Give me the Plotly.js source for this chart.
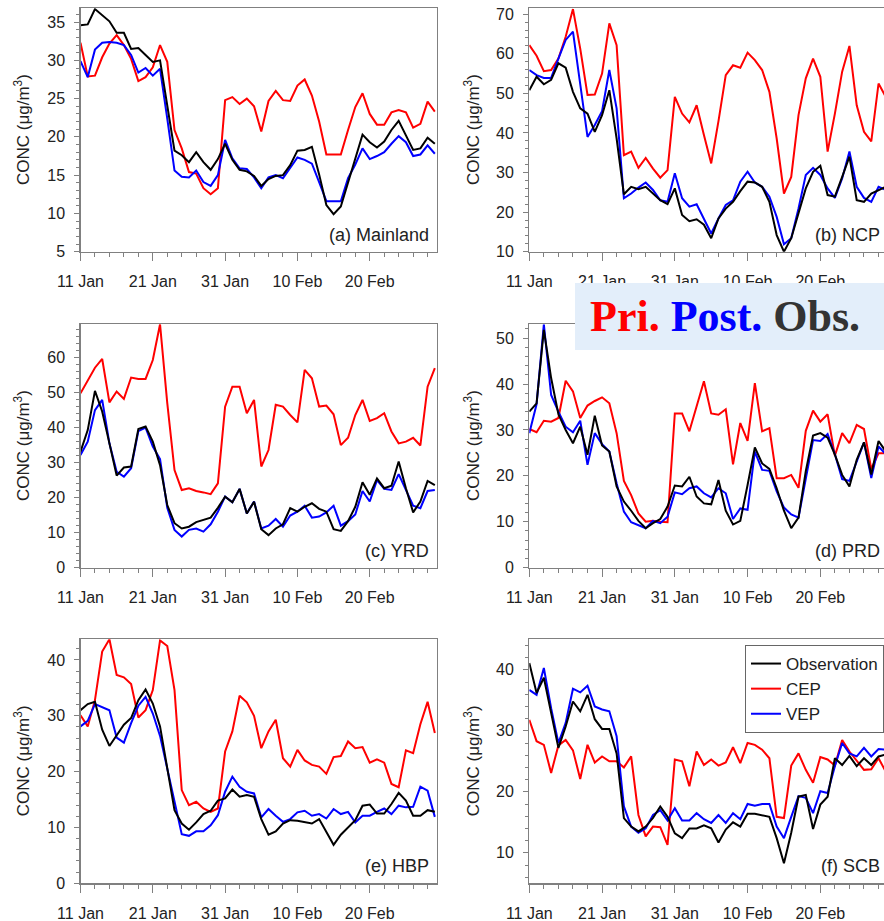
<!DOCTYPE html>
<html>
<head>
<meta charset="utf-8">
<script src="https://cdn.plot.ly/plotly-3.0.1.min.js"></script>
<style>
  html, body { margin: 0; padding: 0; overflow: hidden; background: #fff; }
  #chart { width: 888px; height: 921px; }
</style>
</head>
<body>
<div id="chart"></div>
<script>
// Daily PM2.5 concentrations, 11 Jan - 29 Feb 2020
const startDate = '2020-01-11';
const nDays = 50;
const dates = [];
for (let i = 0; i < nDays; i++) {
  const d = new Date(Date.UTC(2020, 0, 11 + i));
  dates.push(d.toISOString().slice(0, 10));
}

const seriesNames = ['Observation', 'CEP', 'VEP'];
const regionLabels = ['(a) Mainland', '(b) NCP', '(c) YRD', '(d) PRD', '(e) HBP', '(f) SCB'];

// (a) Mainland
const mainlandObs = [34.6, 34.7, 36.7, 35.9, 35.1, 33.6, 33.6, 31.5, 31.6, 30.7, 29.8, 30.0, 24.0, 18.2, 17.6, 16.7, 18.0, 16.7, 15.7, 17.1, 19.1, 17.0, 15.7, 15.5, 14.9, 13.6, 14.5, 14.9, 15.0, 16.3, 18.2, 18.3, 18.7, 15.1, 11.1, 9.9, 10.9, 14.1, 17.2, 20.3, 19.3, 18.6, 19.4, 20.9, 22.1, 20.2, 18.3, 18.5, 19.9, 19.1];
const mainlandCEP = [32.3, 27.9, 28.0, 30.4, 32.2, 33.3, 32.0, 30.2, 27.3, 27.8, 29.1, 32.0, 29.8, 20.9, 18.5, 15.4, 15.2, 13.3, 12.5, 13.3, 24.8, 25.2, 24.3, 25.0, 24.0, 20.7, 24.7, 26.0, 24.8, 24.7, 26.7, 27.5, 25.4, 22.0, 17.7, 17.7, 17.7, 20.9, 23.9, 25.7, 23.0, 21.6, 21.6, 23.2, 23.5, 23.2, 21.2, 21.7, 24.6, 23.3];
const mainlandVEP = [29.9, 27.8, 31.4, 32.3, 32.4, 32.3, 32.0, 30.7, 28.4, 29.0, 28.0, 28.9, 22.4, 15.6, 14.8, 14.7, 15.6, 14.1, 13.6, 15.0, 19.6, 17.2, 15.9, 15.8, 14.7, 13.3, 14.7, 15.0, 14.6, 15.9, 17.3, 17.0, 16.5, 14.1, 11.6, 11.6, 11.6, 14.6, 16.4, 18.5, 17.1, 17.5, 18.0, 19.1, 20.1, 19.3, 17.5, 17.7, 18.9, 17.8];

// (b) NCP
const ncpObs = [50.8, 54.2, 52.3, 53.4, 57.6, 56.5, 50.4, 46.2, 44.9, 40.3, 44.5, 50.8, 38.6, 24.5, 26.4, 25.8, 26.4, 24.7, 23.0, 22.0, 26.0, 19.3, 17.7, 18.2, 16.8, 13.4, 18.4, 20.9, 22.6, 25.3, 27.7, 27.5, 26.4, 22.6, 14.2, 10.0, 13.4, 19.7, 26.0, 30.2, 31.7, 24.3, 23.9, 28.9, 34.0, 23.0, 22.6, 24.7, 25.6, 26.4];
const ncpCEP = [62.2, 59.5, 55.6, 55.9, 58.8, 64.3, 71.3, 61.3, 49.6, 49.7, 55.0, 67.7, 62.2, 34.4, 35.3, 31.2, 33.7, 31.0, 28.7, 30.6, 49.1, 44.9, 42.7, 47.0, 39.5, 32.3, 43.0, 54.6, 57.1, 56.5, 60.3, 58.4, 55.9, 50.4, 38.6, 24.7, 28.9, 44.5, 53.8, 58.8, 54.2, 35.3, 44.9, 55.5, 62.0, 47.0, 40.3, 37.9, 52.5, 49.1];
const ncpVEP = [55.9, 54.6, 53.9, 53.9, 58.8, 63.5, 65.6, 52.5, 39.0, 42.0, 45.5, 55.9, 46.2, 23.5, 24.7, 26.2, 27.5, 25.6, 23.0, 22.6, 29.8, 23.5, 21.4, 22.0, 18.5, 14.6, 18.4, 21.8, 23.0, 27.7, 30.2, 27.5, 26.4, 23.9, 18.8, 11.9, 13.4, 20.9, 29.4, 31.2, 29.4, 26.0, 23.6, 28.5, 35.3, 26.4, 23.6, 22.6, 26.4, 25.6];

// (c) YRD
const yrdObs = [33.1, 39.3, 50.5, 44.6, 35.5, 26.3, 28.6, 28.9, 39.6, 40.3, 36.0, 29.3, 17.9, 12.7, 11.2, 11.7, 13.0, 13.6, 14.3, 17.1, 20.3, 18.7, 22.5, 15.5, 18.8, 11.0, 9.3, 11.2, 12.4, 17.0, 16.0, 17.4, 18.4, 16.8, 16.0, 11.0, 10.5, 13.3, 17.4, 24.4, 20.8, 25.5, 22.7, 23.4, 30.3, 22.7, 15.8, 18.9, 24.8, 23.6];
const yrdCEP = [49.8, 53.6, 57.1, 59.6, 47.2, 50.3, 48.2, 54.3, 53.9, 53.9, 59.3, 69.5, 47.0, 27.9, 22.2, 22.7, 21.9, 21.5, 21.0, 24.1, 46.0, 51.7, 51.7, 44.1, 47.9, 28.9, 33.6, 46.5, 46.0, 43.6, 41.5, 56.5, 54.1, 46.0, 46.3, 43.8, 35.0, 37.1, 43.6, 47.9, 41.9, 42.7, 44.1, 38.9, 35.5, 36.0, 37.1, 34.9, 51.7, 57.0];
const yrdVEP = [32.2, 36.0, 45.0, 47.9, 35.5, 27.4, 26.0, 28.4, 39.0, 40.0, 34.6, 31.0, 17.1, 10.8, 8.9, 10.8, 11.2, 10.3, 12.4, 16.0, 20.3, 18.7, 22.5, 15.5, 18.9, 11.2, 12.0, 13.9, 11.7, 14.9, 16.0, 17.7, 14.3, 14.6, 15.8, 17.7, 12.0, 13.3, 15.2, 21.9, 18.9, 25.0, 22.5, 22.2, 26.7, 22.2, 17.7, 17.0, 21.9, 22.2];

// (d) PRD
const prdObs = [34.0, 35.8, 51.8, 41.3, 33.4, 30.0, 27.1, 30.7, 24.6, 33.1, 26.6, 25.3, 17.7, 14.4, 12.4, 10.2, 8.6, 9.7, 10.6, 13.3, 17.9, 17.7, 19.8, 15.5, 14.0, 13.8, 19.1, 12.4, 9.4, 10.2, 18.0, 26.2, 22.7, 21.5, 17.3, 12.4, 8.6, 10.9, 21.0, 28.8, 29.3, 28.3, 24.6, 20.2, 17.7, 23.5, 27.3, 20.3, 27.6, 25.3];
const prdCEP = [30.2, 29.5, 32.0, 31.8, 32.6, 40.7, 38.4, 32.6, 35.3, 36.3, 37.1, 35.8, 29.3, 18.9, 15.8, 11.8, 10.0, 10.2, 10.0, 9.9, 33.6, 33.6, 29.7, 35.3, 40.6, 33.6, 33.3, 34.5, 22.5, 31.5, 27.6, 40.2, 29.7, 30.4, 19.5, 19.5, 20.2, 17.4, 29.8, 34.2, 31.8, 33.4, 24.4, 29.3, 27.1, 31.1, 30.2, 21.5, 24.9, 24.9];
const prdVEP = [29.3, 35.6, 53.0, 37.6, 34.0, 30.7, 29.5, 32.0, 22.4, 29.3, 26.9, 25.3, 18.4, 12.2, 9.9, 9.2, 8.6, 10.2, 9.7, 11.1, 16.4, 16.0, 17.3, 17.7, 16.2, 15.3, 17.3, 16.2, 10.6, 12.9, 12.6, 25.3, 21.3, 21.1, 16.6, 13.1, 11.6, 10.9, 19.5, 27.8, 27.6, 29.1, 24.7, 19.3, 18.9, 23.1, 27.3, 19.5, 26.4, 24.7];

// (e) HBP
const hbpObs = [31.0, 32.1, 32.5, 27.5, 24.6, 26.6, 28.4, 29.6, 32.8, 34.7, 32.2, 28.1, 20.3, 13.1, 10.7, 9.6, 10.9, 12.4, 13.0, 14.8, 15.2, 16.8, 15.5, 15.8, 15.5, 11.5, 8.7, 9.3, 10.7, 11.3, 11.2, 11.0, 10.7, 11.5, 9.3, 6.9, 8.7, 10.1, 11.3, 13.9, 14.1, 12.5, 12.5, 14.2, 16.2, 14.8, 12.1, 12.1, 13.1, 12.8];
const hbpCEP = [30.1, 28.1, 32.8, 41.5, 43.7, 37.3, 36.9, 35.7, 29.7, 31.0, 34.6, 43.5, 42.5, 34.6, 16.7, 14.0, 14.6, 13.4, 12.8, 13.4, 23.6, 27.2, 33.6, 32.4, 30.0, 24.2, 27.2, 29.3, 22.4, 20.9, 23.9, 22.0, 21.2, 20.9, 19.6, 22.6, 22.8, 25.4, 24.2, 24.4, 21.6, 22.2, 21.6, 17.8, 17.2, 23.8, 23.3, 28.5, 32.5, 26.9];
const hbpVEP = [28.1, 29.1, 32.1, 31.6, 31.0, 26.1, 25.2, 28.7, 31.8, 33.4, 30.4, 26.4, 20.4, 15.0, 8.8, 8.5, 9.3, 9.3, 10.4, 12.2, 16.4, 19.1, 17.3, 16.4, 16.1, 11.8, 13.3, 12.1, 11.0, 11.5, 12.7, 13.0, 12.1, 12.4, 11.6, 13.3, 12.4, 12.8, 10.9, 12.1, 12.1, 12.8, 13.4, 12.4, 13.9, 13.6, 13.7, 17.3, 16.6, 11.9];

// (f) SCB
const scbObs = [41.1, 36.2, 38.7, 33.2, 27.2, 30.7, 34.8, 33.2, 35.9, 31.9, 30.3, 30.3, 26.3, 15.7, 14.3, 13.5, 14.3, 15.7, 17.6, 15.9, 13.2, 12.4, 14.0, 14.0, 14.5, 14.0, 11.7, 13.8, 15.0, 14.3, 16.4, 16.4, 16.2, 15.9, 12.4, 8.3, 13.3, 19.2, 19.5, 13.9, 17.9, 19.2, 25.5, 24.4, 25.9, 24.2, 25.5, 24.4, 25.8, 26.1];
const scbCEP = [31.8, 28.3, 27.7, 23.1, 27.6, 28.5, 26.8, 22.1, 27.7, 24.8, 25.8, 25.0, 25.0, 24.0, 25.8, 16.2, 12.7, 14.3, 14.2, 11.3, 25.3, 25.0, 20.9, 26.6, 24.4, 25.3, 24.3, 24.8, 27.3, 24.7, 28.0, 27.7, 26.9, 25.5, 15.9, 15.7, 24.3, 26.3, 23.6, 21.5, 25.7, 25.3, 24.3, 28.5, 26.6, 25.0, 23.6, 23.7, 25.5, 23.3];
const scbVEP = [36.7, 35.9, 40.3, 33.7, 28.0, 31.3, 36.9, 36.3, 37.4, 34.0, 33.5, 33.2, 29.1, 17.6, 14.3, 13.3, 14.0, 16.2, 17.0, 15.3, 17.3, 15.3, 15.3, 16.5, 15.5, 14.9, 16.2, 14.9, 16.5, 15.5, 18.0, 17.7, 18.0, 18.0, 14.3, 12.4, 15.9, 19.3, 19.0, 16.5, 20.1, 19.8, 24.2, 28.0, 26.3, 25.8, 27.2, 25.8, 27.0, 26.9];

const panelData = [
  [mainlandObs, mainlandCEP, mainlandVEP],
  [ncpObs, ncpCEP, ncpVEP],
  [yrdObs, yrdCEP, yrdVEP],
  [prdObs, prdCEP, prdVEP],
  [hbpObs, hbpCEP, hbpVEP],
  [scbObs, scbCEP, scbVEP]
];

// Axis settings per panel: [min, max, major step, minor step]
const yRanges = [[5, 36.8, 5, 1], [10, 71.5, 10, 2], [0, 69.5, 10, 2], [0, 53, 10, 2], [0, 43.7, 10, 2], [5, 45, 10, 2]];

// Page geometry (pixels)
const W = 888, H = 921;
const colLeft = [80.5, 529.3], colRight = [437, 888];
const rowTop = [8.3, 324.3, 639.3], rowBottom = [251.7, 567.7, 883.3];

const lineColors = ['#000000', '#ff0000', '#0000ff'];
const frameColor = '#808080';
const font = 'Liberation Sans, Arial, sans-serif';

const traces = [];
const layout = {
  width: W, height: H,
  margin: {l: 0, r: 0, t: 0, b: 0},
  paper_bgcolor: '#ffffff', plot_bgcolor: '#ffffff',
  font: {family: font, color: '#222222', size: 16},
  showlegend: true,
  legend: {
    x: 745 / W, y: 1 - 645 / H, xanchor: 'left', yanchor: 'top',
    bgcolor: '#ffffff', bordercolor: '#666666', borderwidth: 1,
    font: {family: font, size: 17, color: '#222222'},
    tracegroupgap: 0, itemwidth: 30
  },
  annotations: [],
  shapes: []
};

const drawOrder = [1, 2, 0]; // CEP, VEP, then observations on top

panelData.forEach((series, p) => {
  const col = p % 2, row = Math.floor(p / 2);
  const ax = p === 0 ? '' : String(p + 1);
  const xName = 'xaxis' + ax, yName = 'yaxis' + ax;
  const [ymin, ymax, ystep, yminor] = yRanges[p];

  layout[xName] = {
    type: 'date',
    domain: [colLeft[col] / W, colRight[col] / W],
    anchor: 'y' + ax,
    range: ['2020-01-11', '2020-02-29 07:12'],
    tick0: startDate, dtick: 10 * 86400000,
    tickformat: '%d %b',
    ticks: 'outside', ticklen: 8, tickwidth: 1, tickcolor: frameColor,
    showline: true, linecolor: frameColor, linewidth: 1.2, mirror: true,
    showgrid: false, zeroline: false,
    ticklabelstandoff: 7,
    tickfont: {family: font, size: 16, color: '#222222'},
    minor: {tick0: startDate, dtick: 2 * 86400000, ticks: 'outside', ticklen: 4, tickwidth: 1, tickcolor: frameColor, showgrid: false}
  };
  layout[yName] = {
    domain: [1 - rowBottom[row] / H, 1 - rowTop[row] / H],
    anchor: 'x' + ax,
    range: [ymin, ymax],
    tick0: 0, dtick: ystep,
    ticks: 'outside', ticklen: 5, tickwidth: 1, tickcolor: frameColor,
    showline: true, linecolor: frameColor, linewidth: 1.2, mirror: true,
    showgrid: false, zeroline: false,
    ticklabelstandoff: 6,
    tickfont: {family: font, size: 16, color: '#222222'},
    minor: {tick0: 0, dtick: yminor, ticks: 'outside', ticklen: 3, tickwidth: 1, tickcolor: frameColor, showgrid: false}
  };

  drawOrder.forEach(s => {
    traces.push({
      type: 'scatter', mode: 'lines',
      x: dates, y: series[s],
      xaxis: 'x' + ax, yaxis: 'y' + ax,
      name: seriesNames[s],
      legendgroup: seriesNames[s],
      legendrank: s + 1,
      showlegend: p === 5,
      line: {color: lineColors[s], width: 2},
      hoverinfo: 'skip'
    });
  });

  // Region label, lower right inside each panel
  layout.annotations.push({
    xref: 'x' + ax + ' domain', yref: 'y' + ax + ' domain',
    x: 1, y: 0, xshift: -6, yshift: 5,
    xanchor: 'right', yanchor: 'bottom',
    text: regionLabels[p], showarrow: false,
    font: {family: font, size: 18, color: '#222222'}
  });

  // Vertical axis title
  layout.annotations.push({
    xref: 'paper', yref: 'paper',
    x: (col === 0 ? 22 : 472) / W,
    y: 1 - (rowTop[row] + rowBottom[row]) / 2 / H,
    xanchor: 'center', yanchor: 'middle',
    textangle: -90, showarrow: false,
    text: 'CONC (μg/m<sup>3</sup>)',
    font: {family: font, size: 17, color: '#222222'}
  });
});

// Scheme key box
layout.shapes.push({
  type: 'rect', xref: 'paper', yref: 'paper', layer: 'above',
  x0: 575 / W, x1: 1, y0: 1 - 350 / H, y1: 1 - 283 / H,
  fillcolor: '#e3eefa', line: {width: 0}
});
layout.annotations.push({
  xref: 'paper', yref: 'paper',
  x: 725 / W, y: 1 - 317 / H, xanchor: 'center', yanchor: 'middle',
  showarrow: false,
  text: '<b><span style="color:#ff0000">Pri.</span> <span style="color:#0000ff">Post.</span> <span style="color:#333333">Obs.</span></b>',
  font: {family: 'Liberation Serif, Times New Roman, serif', size: 44}
});

Plotly.newPlot('chart', traces, layout, {displayModeBar: false, staticPlot: true});
</script>
</body>
</html>
